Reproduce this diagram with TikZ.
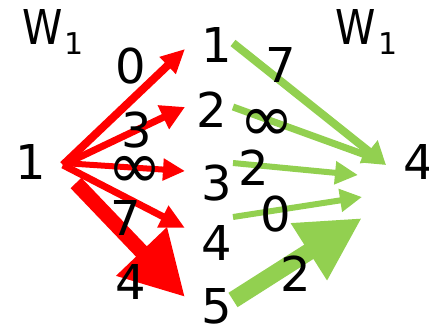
\documentclass[tikz,border=0pt]{standalone}
\usepackage{fontspec}
\setmainfont{DejaVu Sans}
\usetikzlibrary{arrows.meta}
\definecolor{arrred}{RGB}{255,0,0}
\definecolor{arrgreen}{RGB}{146,208,80}
\tikzset{
  lbl/.style={inner sep=0pt, outer sep=0pt, anchor=center, font=\fontsize{48}{48}\selectfont},
  inf/.style={inner sep=0pt, outer sep=0pt, anchor=center, font=\fontsize{66}{66}\selectfont},
  sub/.style={inner sep=0pt, outer sep=0pt, anchor=center, font=\fontsize{30}{30}\selectfont},
  redarr/.style={draw=arrred, line cap=butt},
  greenarr/.style={draw=arrgreen, line cap=butt},
}
\begin{document}
\begin{tikzpicture}[x=1pt,y=-1pt]
\useasboundingbox (0,0) rectangle (429,330);
% coordinates
\coordinate (rs) at (63,165);
\coordinate (rs3) at (63,163);
\coordinate (rs5) at (76,183);
\coordinate (rt1) at (185,49);
\coordinate (rt2) at (185,107);
\coordinate (rt3) at (185,171);
\coordinate (rt4) at (185,228);
\coordinate (rt5) at (185,297);
\coordinate (gs1) at (233,43);
\coordinate (gs2) at (233,107);
\coordinate (gs3) at (233,163);
\coordinate (gs4) at (233,217);
\coordinate (gs5) at (233,300);
\coordinate (gt1) at (386,165);
\coordinate (gt2) at (382,161);
\coordinate (gt3) at (358,175);
\coordinate (gt4) at (362,197);
\coordinate (gt5) at (362,218);
% red arrows
\draw[redarr, line width=8pt, -{Triangle[width=22pt,length=24pt]}] (rs) -- (rt1);
\draw[redarr, line width=7pt, -{Triangle[width=25pt,length=24pt]}] (rs) -- (rt2);
\draw[redarr, line width=6pt, -{Triangle[width=21pt,length=22pt]}] (rs3) -- (rt3);
\draw[redarr, line width=7pt, -{Triangle[width=23pt,length=25pt]}] (rs) -- (rt4);
\draw[redarr, line width=15pt, -{Triangle[width=66pt,length=63pt]}] (rs5) -- (rt5);
% green arrows
\draw[greenarr, line width=7pt, -{Triangle[width=18pt,length=20pt]}] (gs2) -- (gt2);
\draw[greenarr, line width=8pt, -{Triangle[width=27pt,length=22pt]}] (gs1) -- (gt1);
\draw[greenarr, line width=6pt, -{Triangle[width=22pt,length=23pt]}] (gs3) -- (gt3);
\draw[greenarr, line width=6pt, -{Triangle[width=22pt,length=22pt]}] (gs4) -- (gt4);
\draw[greenarr, line width=17pt, -{Triangle[width=63pt,length=63pt]}] (gs5) -- (gt5);
% headers
\node[lbl] (wl) at (43,27) {\scalebox{0.85}[1]{W}};
\node[sub] (wls) at (74,43.5) {1};
\node[lbl] (wr) at (356,27) {\scalebox{0.85}[1]{W}};
\node[sub] (wrs) at (388,43.5) {1};
% vertices
\node[lbl] (a1) at (31,162) {1};
\node[lbl] (m1) at (217,45) {1};
\node[lbl] (m2) at (212,110) {2};
\node[lbl] (m3) at (217,183) {3};
\node[lbl] (m4) at (217,243) {4};
\node[lbl] (m5) at (217,306) {5};
\node[lbl] (z4) at (419,162) {4};
% weights red
\node[lbl] (r1) at (131,66) {0};
\node[lbl] (r2) at (137,130) {3};
\node[inf] (r3) at (135,172) {∞};
\node[lbl] (r4) at (126,218) {7};
\node[lbl] (r5) at (131,282) {4};
% weights green
\node[lbl] (g1) at (281,65) {7};
\node[inf] (g2) at (267,125) {∞};
\node[lbl] (g3) at (254,168) {2};
\node[lbl] (g4) at (276,214) {0};
\node[lbl] (g5) at (296,274) {2};
\end{tikzpicture}
\end{document}
